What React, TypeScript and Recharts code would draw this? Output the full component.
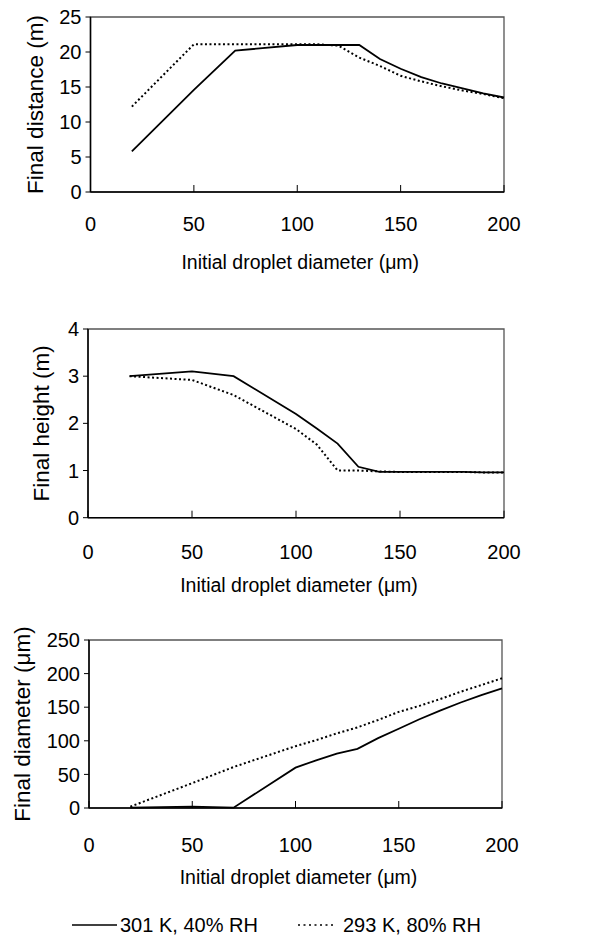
import React from "react";
import { LineChart, Line, XAxis, YAxis, ReferenceArea } from "recharts";

const diameters = [20, 50, 70, 100, 110, 120, 130, 140, 150, 160, 170, 180, 190, 200];
const xTicks = [0, 50, 100, 150, 200];

const distance301 = [5.8, 14.6, 20.2, 21.0, 21.0, 21.0, 21.0, 19.0, 17.6, 16.4, 15.5, 14.8, 14.1, 13.5];
const distance293 = [12.2, 21.1, 21.1, 21.1, 21.1, 20.9, 19.2, 18.0, 16.6, 15.8, 15.1, 14.5, 14.0, 13.4];

const height301 = [3.0, 3.1, 3.0, 2.2, 1.89, 1.57, 1.08, 0.97, 0.97, 0.97, 0.97, 0.97, 0.96, 0.96];
const height293 = [3.0, 2.92, 2.6, 1.88, 1.55, 1.0, 1.0, 0.98, 0.97, 0.97, 0.97, 0.97, 0.96, 0.96];

const diam301 = [0.5, 2, 0.5, 60, 71, 81, 88, 104, 118, 132, 145, 157, 168, 178];
const diam293 = [2, 37, 61, 92, 101, 111, 120, 131, 143, 152, 162, 173, 183, 193];

const series = ["301 K, 40% RH", "293 K, 80% RH"];
const FONT = '"Liberation Sans", Arial, Helvetica, sans-serif';

const toRows = (a: number[], b: number[]) =>
  diameters.map((d, i) => ({ d, s1: a[i], s2: b[i] }));

const XTick = ({ x, y, payload, gap }: any) => (
  <g>
    <line x1={x} y1={y} x2={x} y2={y - 7} stroke="#000" strokeWidth={1} />
    <text x={x} y={y + gap} textAnchor="middle" dominantBaseline="central" fontSize={20} fontFamily={FONT} fill="#000">
      {payload.value}
    </text>
  </g>
);

type PanelProps = {
  top: number;
  h: number;
  mt: number;
  axisH: number;
  yw: number;
  mr: number;
  tickGap: number;
  xLabelGap: number;
  yLabelX: number;
  yMax: number;
  yTicks: number[];
  yLabel: string;
  data: { d: number; s1: number; s2: number }[];
};

function Panel(p: PanelProps) {
  return (
    <div style={{ position: "absolute", left: 0, top: p.top }}>
      <LineChart width={593} height={p.h} data={p.data} margin={{ top: p.mt, right: p.mr, left: 0, bottom: 0 }}>
        <ReferenceArea x1={0} x2={200} y1={0} y2={p.yMax} fill="none" stroke="#555" strokeWidth={1.3} />
        <XAxis
          dataKey="d"
          type="number"
          domain={[0, 200]}
          ticks={xTicks}
          height={p.axisH}
          tickSize={0}
          tickMargin={0}
          tickLine={false}
          axisLine={{ stroke: "#000", strokeWidth: 1.5 }}
          tick={(t: any) => <XTick {...t} gap={p.tickGap} />}
          interval={0}
          label={{
            content: (l: any) => (
              <text
                x={l.viewBox.x + l.viewBox.width / 2 + 3}
                y={l.viewBox.y + p.xLabelGap}
                textAnchor="middle"
                dominantBaseline="central"
                fontSize={19.5}
                fontFamily={FONT}
                fill="#000"
              >
                Initial droplet diameter (μm)
              </text>
            ),
          }}
        />
        <YAxis
          type="number"
          domain={[0, p.yMax]}
          ticks={p.yTicks}
          width={p.yw}
          tickSize={5}
          tickMargin={4}
          interval={0}
          axisLine={{ stroke: "#000", strokeWidth: 1.5 }}
          tickLine={{ stroke: "#000" }}
          tick={{ fontSize: 20, fontFamily: FONT, fill: "#000" }}
          label={{
            content: (l: any) => {
              const cy = l.viewBox.y + l.viewBox.height / 2;
              return (
                <text
                  x={p.yLabelX}
                  y={cy}
                  transform={`rotate(-90 ${p.yLabelX} ${cy})`}
                  textAnchor="middle"
                  dominantBaseline="central"
                  fontSize={22.5}
                  fontFamily={FONT}
                  fill="#000"
                >
                  {p.yLabel}
                </text>
              );
            },
          }}
        />
        <Line dataKey="s1" name={series[0]} stroke="#000" strokeWidth={1.8} dot={false} isAnimationActive={false} />
        <Line
          dataKey="s2"
          name={series[1]}
          stroke="#000"
          strokeWidth={2}
          strokeDasharray="2 2.5"
          dot={false}
          isAnimationActive={false}
        />
      </LineChart>
    </div>
  );
}

export default function App() {
  return (
    <div style={{ position: "absolute", left: 0, top: 0, width: 593, height: 937, background: "#fff" }}>
      <Panel
        top={0}
        h={280}
        mt={17}
        axisH={88}
        yw={90.5}
        mr={89}
        tickGap={32}
        xLabelGap={70}
        yLabelX={35}
        yMax={25}
        yTicks={[0, 5, 10, 15, 20, 25]}
        yLabel="Final distance (m)"
        data={toRows(distance301, distance293)}
      />
      <Panel
        top={300}
        h={300}
        mt={29}
        axisH={82.3}
        yw={88}
        mr={89}
        tickGap={34}
        xLabelGap={67}
        yLabelX={42}
        yMax={4}
        yTicks={[0, 1, 2, 3, 4]}
        yLabel="Final height (m)"
        data={toRows(height301, height293)}
      />
      <Panel
        top={600}
        h={290}
        mt={40}
        axisH={82}
        yw={89}
        mr={91}
        tickGap={37}
        xLabelGap={69}
        yLabelX={22}
        yMax={250}
        yTicks={[0, 50, 100, 150, 200, 250]}
        yLabel="Final diameter (μm)"
        data={toRows(diam301, diam293)}
      />
      <svg width={593} height={40} style={{ position: "absolute", left: 0, top: 905 }}>
        <line x1={72} y1={20} x2={117} y2={20} stroke="#000" strokeWidth={1.6} />
        <text x={120} y={20} dominantBaseline="central" fontSize={20} fontFamily={FONT} fill="#000">
          {series[0]}
        </text>
        <line x1={298} y1={20} x2={336} y2={20} stroke="#000" strokeWidth={1.5} strokeDasharray="2 3.5" />
        <text x={343} y={20} dominantBaseline="central" fontSize={20} fontFamily={FONT} fill="#000">
          {series[1]}
        </text>
      </svg>
    </div>
  );
}
